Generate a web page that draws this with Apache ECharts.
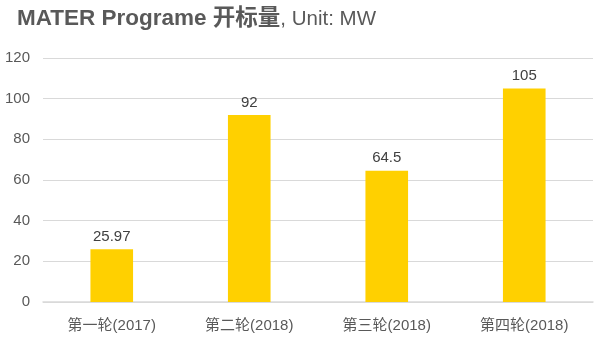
<!DOCTYPE html>
<html>
<head>
<meta charset="utf-8">
<script src="https://cdn.jsdelivr.net/npm/echarts@6/dist/echarts.min.js"></script>
<style>
  html, body { margin: 0; padding: 0; background: #fff; }
  #chart { width: 600px; height: 341px; }
</style>
</head>
<body>
<div id="chart"></div>
<script>
// Tender rounds and awarded capacity (MW)
const categories = ['第一轮(2017)', '第二轮(2018)', '第三轮(2018)', '第四轮(2018)'];
const capacityMW = [25.97, 92, 64.5, 105];
const yTicks = [0, 20, 40, 60, 80, 100, 120];

const font = '"Helvetica Neue", Arial, "Liberation Sans", "Noto Sans CJK SC", sans-serif';

const chart = echarts.init(document.getElementById('chart'));
chart.setOption({
  backgroundColor: '#fff',
  animation: false,
  title: {
    text: '{b|MATER Programe 开标量}{n|, Unit: MW}',
    left: 12,
    top: 3,
    textStyle: {
      rich: {
        b: { fontFamily: font, fontSize: 22.5, fontWeight: 'bold', color: '#595959' },
        n: { fontFamily: font, fontSize: 20.5, fontWeight: 'normal', color: '#595959' }
      }
    }
  },
  grid: { left: 43, right: 7, top: 58, bottom: 39 },
  xAxis: {
    type: 'category',
    data: categories,
    axisLine: { lineStyle: { color: '#d9d9d9', width: 1.5 } },
    axisTick: { show: false },
    axisLabel: { color: '#595959', fontSize: 15, fontFamily: font, margin: 16 }
  },
  yAxis: {
    type: 'value',
    min: yTicks[0],
    max: yTicks[yTicks.length - 1],
    interval: yTicks[1] - yTicks[0],
    axisLine: { show: false },
    axisTick: { show: false },
    axisLabel: { color: '#595959', fontSize: 15, fontFamily: font, margin: 13 },
    splitLine: { lineStyle: { color: '#d9d9d9', width: 1 } }
  },
  series: [{
    type: 'bar',
    data: capacityMW,
    barWidth: '31%',
    itemStyle: { color: '#FFD000' },
    label: {
      show: true,
      position: 'top',
      distance: 5,
      color: '#404040',
      fontSize: 15,
      fontFamily: font
    }
  }]
});
</script>
</body>
</html>
